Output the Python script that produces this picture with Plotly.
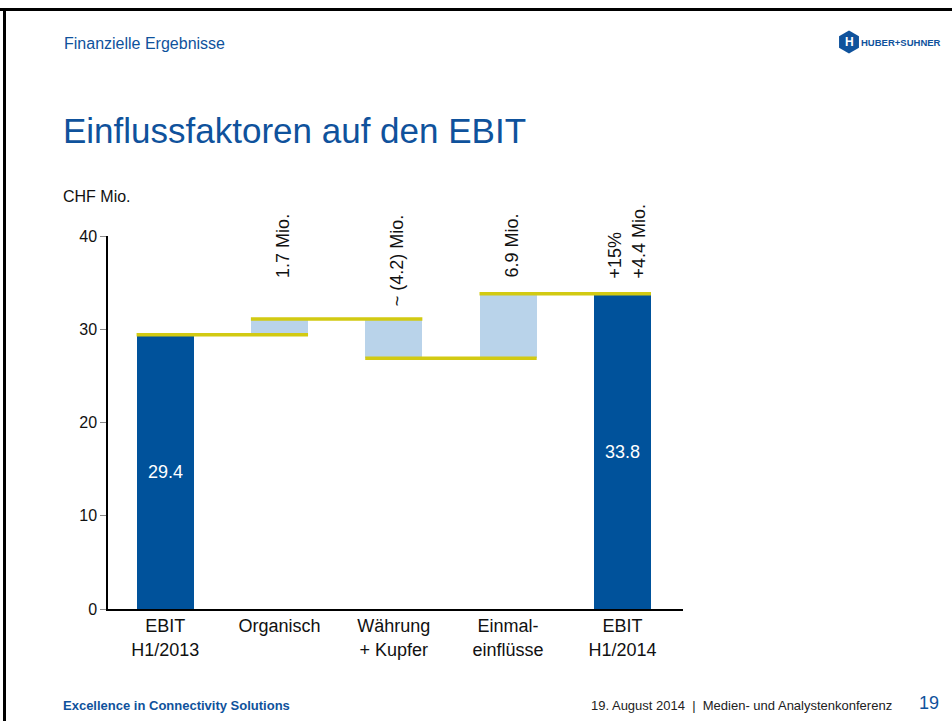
import math
import plotly.graph_objects as go

# ---- data ----
categories = ["EBIT<br>H1/2013", "Organisch", "Währung<br>+ Kupfer", "Einmal-<br>einflüsse", "EBIT<br>H1/2014"]
deltas = [29.4, 1.7, -4.2, 6.9, 33.8]          # first/last are totals
is_total = [True, False, False, False, True]
bar_labels = ["29.4", "", "", "", "33.8"]
top_labels = ["", "1.7 Mio.", "~ (4.2) Mio.", "6.9 Mio.", "+15%<br>+4.4 Mio."]
y_ticks = [0, 10, 20, 30, 40]

# ---- styles ----
DARK = "#00529B"
LIGHT = "#B9D3EA"
YELLOW = "#D2CA12"
BLUE_TXT = "#0F529C"
FONT = "Arial, Liberation Sans, sans-serif"

W, H = 952, 721
L, R, T, B = 108, 683, 236, 609


def pxx(x):
    return (x - L) / (R - L)


def pxy(y):
    return (B - y) / (B - T)


# running totals -> bar bases / heights
bases, heights, colors, levels = [], [], [], []
running = 0.0
for d, tot in zip(deltas, is_total):
    if tot:
        bases.append(0)
        heights.append(d)
        colors.append(DARK)
        running = d
    else:
        new = running + d
        bases.append(min(running, new))
        heights.append(abs(d))
        colors.append(LIGHT)
        running = new
    levels.append(running)

xs = list(range(len(categories)))

fig = go.Figure()
fig.add_trace(go.Bar(
    x=xs, y=heights, base=bases, width=0.5,
    marker=dict(color=colors, line=dict(width=0)),
    text=bar_labels, textposition="inside", insidetextanchor="middle",
    textfont=dict(color="white", size=18, family=FONT),
    hoverinfo="skip", showlegend=False,
))

# yellow connector lines
hw = 0.25
for i in range(len(categories) - 1):
    fig.add_trace(go.Scatter(
        x=[xs[i] - hw, xs[i + 1] + hw], y=[levels[i], levels[i]],
        mode="lines", line=dict(color=YELLOW, width=3.5),
        hoverinfo="skip", showlegend=False,
    ))

annotations = []
label_bottom_px = [None, 280, 308, 280, 280]
for i, lab in enumerate(top_labels):
    if not lab:
        continue
    annotations.append(dict(
        x=xs[i] + (0.04 if i == 4 else 0.03), xref="x",
        y=pxy(label_bottom_px[i]), yref="paper",
        text=lab, textangle=-90, showarrow=False, align="left",
        xanchor="center", yanchor="bottom",
        font=dict(size=18, color="#111111", family=FONT),
    ))

# slide texts
annotations += [
    dict(x=pxx(62), y=pxy(43), xref="paper", yref="paper", text="Finanzielle Ergebnisse",
         showarrow=False, xanchor="left", yanchor="middle",
         font=dict(size=16, color=BLUE_TXT, family=FONT)),
    dict(x=pxx(61), y=pxy(130), xref="paper", yref="paper", text="Einflussfaktoren auf den EBIT",
         showarrow=False, xanchor="left", yanchor="middle",
         font=dict(size=35, color=BLUE_TXT, family=FONT)),
    dict(x=pxx(61), y=pxy(197), xref="paper", yref="paper", text="CHF Mio.",
         showarrow=False, xanchor="left", yanchor="middle",
         font=dict(size=16, color="#111111", family=FONT)),
    dict(x=pxx(61), y=pxy(705), xref="paper", yref="paper",
         text="<b>Excellence in Connectivity Solutions</b>",
         showarrow=False, xanchor="left", yanchor="middle",
         font=dict(size=13, color=BLUE_TXT, family=FONT)),
    dict(x=pxx(894), y=pxy(705), xref="paper", yref="paper",
         text="19. August 2014  |  Medien- und Analystenkonferenz",
         showarrow=False, xanchor="right", yanchor="middle",
         font=dict(size=13, color="#222222", family=FONT)),
    dict(x=pxx(941), y=pxy(703), xref="paper", yref="paper", text="19",
         showarrow=False, xanchor="right", yanchor="middle",
         font=dict(size=18, color=BLUE_TXT, family=FONT)),
    dict(x=pxx(943), y=pxy(42), xref="paper", yref="paper", text="<b>HUBER+SUHNER</b>",
         showarrow=False, xanchor="right", yanchor="middle",
         font=dict(size=9.5, color=BLUE_TXT, family=FONT)),
    dict(x=pxx(849), y=pxy(42), xref="paper", yref="paper", text="<b>H</b>",
         showarrow=False, xanchor="center", yanchor="middle",
         font=dict(size=12, color="white", family=FONT)),
]

# hexagon logo path in paper coords
cx, cy, r = 849, 42, 11.5
pts = []
for k in range(6):
    a = math.radians(60 * k + 30)
    pts.append((pxx(cx + r * math.cos(a)), pxy(cy + r * math.sin(a))))
path = "M " + " L ".join(f"{x:.5f},{y:.5f}" for x, y in pts) + " Z"

shapes = [
    dict(type="path", path=path, xref="paper", yref="paper",
         fillcolor=BLUE_TXT, line=dict(width=0)),
    # slide border (top and left)
    dict(type="rect", xref="paper", yref="paper", x0=pxx(0), x1=pxx(W), y0=pxy(11), y1=pxy(8),
         fillcolor="black", line=dict(width=0)),
    dict(type="rect", xref="paper", yref="paper", x0=pxx(3), x1=pxx(6), y0=pxy(H), y1=pxy(8),
         fillcolor="black", line=dict(width=0)),
]

fig.update_layout(
    width=W, height=H,
    margin=dict(l=L, r=W - R, t=T, b=H - B, pad=0),
    paper_bgcolor="white", plot_bgcolor="white",
    font=dict(family=FONT, color="#111111"),
    annotations=annotations, shapes=shapes,
    bargap=0,
    xaxis=dict(
        range=[-0.5, 4.53], tickvals=xs, ticktext=categories,
        showline=True, linecolor="black", linewidth=1.5,
        ticks="", showgrid=False, zeroline=False, fixedrange=True,
        tickfont=dict(size=18, color="#111111", family=FONT),
    ),
    yaxis=dict(
        range=[0, 40], tickvals=y_ticks,
        showline=True, linecolor="black", linewidth=1.5,
        ticks="outside", ticklen=6, tickcolor="#888888",
        showgrid=False, zeroline=False, fixedrange=True,
        tickfont=dict(size=16, color="#111111", family=FONT),
    ),
)

fig.write_html("out.html", config={"displayModeBar": False},
               post_script="document.body.style.margin='0';")
